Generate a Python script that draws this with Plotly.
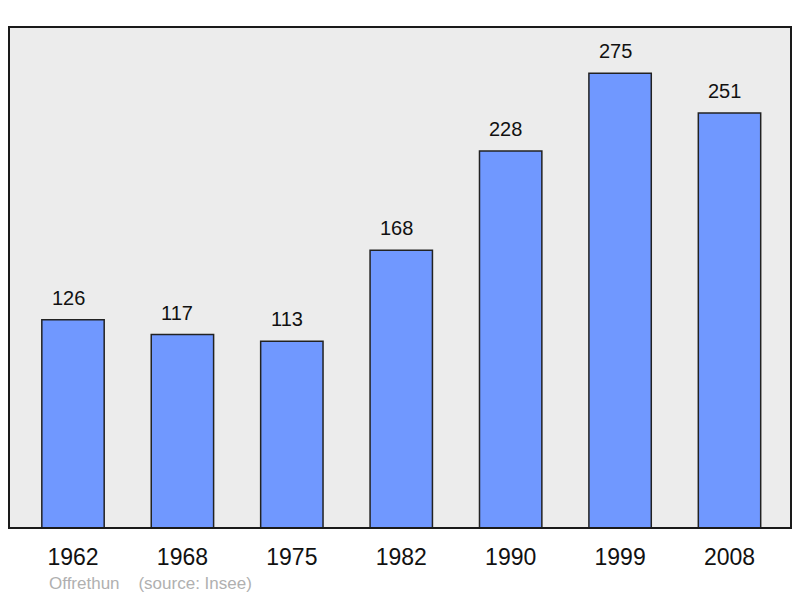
import plotly.graph_objects as go

years = ["1962", "1968", "1975", "1982", "1990", "1999", "2008"]
population = [126, 117, 113, 168, 228, 275, 251]
source_text = "Offrethun&nbsp;&nbsp;&nbsp;&nbsp;(source: Insee)"

W, H = 800, 598
L, R, T, B = 9, 791, 27, 528

fig = go.Figure()
fig.add_trace(go.Bar(
    x=years, y=population, width=0.57,
    marker=dict(color="#7098ff", line=dict(color="#222222", width=1.5)),
    hoverinfo="x+y",
))

for i, v in enumerate(population):
    fig.add_annotation(x=i, y=v, text=str(v), showarrow=False, yshift=22, xshift=-5,
                       xanchor="center", yanchor="middle",
                       font=dict(size=20, color="#111111", family="Liberation Sans, Arial, sans-serif"))

fig.add_annotation(xref="paper", yref="paper", x=(47 - L) / (R - L), y=-(583 - B) / (B - T),
                   xanchor="left", yanchor="middle", showarrow=False, text=source_text,
                   font=dict(size=17, color="#b0b0b0", family="Liberation Sans, Arial, sans-serif"))

fig.add_shape(type="rect", xref="paper", yref="paper", x0=0, y0=0, x1=1, y1=1,
              line=dict(color="#1a1a1a", width=2), layer="above")

fig.update_layout(
    width=W, height=H,
    margin=dict(l=L, r=W - R, t=T, b=H - B, pad=0),
    paper_bgcolor="white", plot_bgcolor="#ececec",
    showlegend=False,
    font=dict(family="Liberation Sans, Arial, sans-serif", color="#111111"),
    xaxis=dict(type="category", range=[-0.585, 6.562], showgrid=False, zeroline=False,
               ticks="outside", ticklen=8, tickcolor="rgba(0,0,0,0)",
               tickfont=dict(size=23, color="#111111"), fixedrange=True),
    yaxis=dict(range=[0, 303], showgrid=False, zeroline=False, showticklabels=False,
               fixedrange=True),
)

fig.write_html(
    "out.html",
    config={"displayModeBar": False},
    post_script="document.body.style.margin='0';document.body.style.overflow='hidden';",
)
